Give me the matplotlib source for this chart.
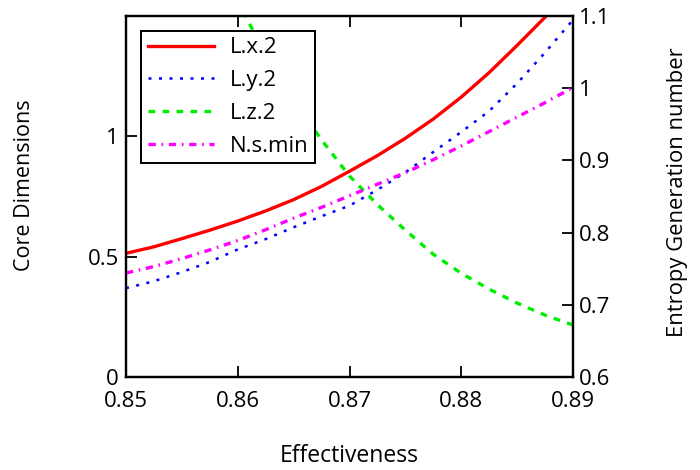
import matplotlib
matplotlib.use("Agg")
import matplotlib.pyplot as plt
from matplotlib.ticker import FixedLocator, FuncFormatter

# Effectiveness values (x axis)
effectiveness = [0.85, 0.8525, 0.855, 0.8575, 0.86, 0.8625, 0.865, 0.8675, 0.87,
                 0.8725, 0.875, 0.8775, 0.88, 0.8825, 0.885, 0.8875, 0.89]

# Core dimensions (left axis)
L_x2 = [0.514, 0.541, 0.575, 0.610, 0.648, 0.690, 0.737, 0.792, 0.855,
        0.920, 0.992, 1.072, 1.163, 1.265, 1.378, 1.495, 1.625]
L_y2 = [0.369, 0.398, 0.436, 0.478, 0.530, 0.573, 0.622, 0.668, 0.712,
        0.778, 0.850, 0.935, 1.018, 1.105, 1.220, 1.348, 1.484]
L_z2 = [2.85, 2.45, 2.12, 1.82, 1.56, 1.34, 1.15, 0.985, 0.835,
        0.716, 0.610, 0.510, 0.431, 0.365, 0.307, 0.257, 0.216]

# Minimum entropy generation number (right axis)
N_s_min = [0.744, 0.753, 0.764, 0.776, 0.789, 0.804, 0.820, 0.835, 0.851,
           0.867, 0.883, 0.901, 0.920, 0.940, 0.960, 0.980, 1.001]

x_ticks = [0.85, 0.86, 0.87, 0.88, 0.89]
left_ticks = [0, 0.5, 1]
right_ticks = [0.6, 0.7, 0.8, 0.9, 1.0, 1.1]

plt.rcParams['font.family'] = ['Open Sans', 'DejaVu Sans']
FS = 16

fig = plt.figure(figsize=(7, 4.7), dpi=100)
ax = fig.add_axes([126 / 700, 1 - 377 / 470, 447 / 700, 361 / 470])
ax2 = ax.twinx()

fmt = FuncFormatter(lambda v, p: f"{v:g}")

h1, = ax.plot(effectiveness, L_x2, color='#ff0000', lw=2.4, ls='-', label='L.x.2')
h2, = ax.plot(effectiveness, L_y2, color='#0000ff', lw=1.8, ls=(0, (1.2, 3.0)), label='L.y.2')
h3, = ax.plot(effectiveness, L_z2, color='#00ee00', lw=2.4, ls=(0, (2.0, 2.2)), label='L.z.2')
h4, = ax2.plot(effectiveness, N_s_min, color='#ff00ff', lw=2.4,
               ls=(0, (2.2, 1.7, 0.5, 1.7)), label='N.s.min')

ax.set_xlim(0.85, 0.89)
ax.set_ylim(0, 1.5)
ax2.set_ylim(0.6, 1.1)

ax.xaxis.set_major_locator(FixedLocator(x_ticks))
ax.xaxis.set_major_formatter(fmt)
ax.yaxis.set_major_locator(FixedLocator(left_ticks))
ax.yaxis.set_major_formatter(fmt)
ax2.yaxis.set_major_locator(FixedLocator(right_ticks))
ax2.yaxis.set_major_formatter(fmt)

ax.tick_params(axis='x', direction='in', length=8, width=1.3, labelsize=FS,
               pad=10, top=True, colors='black')
ax.tick_params(axis='y', direction='in', length=8, width=1.3, labelsize=FS,
               pad=5, right=False)
ax2.tick_params(axis='y', direction='in', length=8, width=1.3, labelsize=FS, pad=4)

for a in (ax, ax2):
    for s in a.spines.values():
        s.set_linewidth(1.6)
        s.set_color('black')

ax.set_xlabel('Effectiveness', fontsize=16.5, va='center')
ax.xaxis.set_label_coords(0.5, (377 - 456) / 361)
ax.set_ylabel('Core Dimensions', fontsize=15.5, va='center')
ax.yaxis.set_label_coords((25 - 126) / 447, (377 - 185) / 361)
ax2.set_ylabel('Entropy Generation number', fontsize=15.8, va='center', rotation=90)
ax2.yaxis.set_label_coords((678 - 126) / 447, (377 - 192) / 361)

leg = ax2.legend(handles=[h1, h2, h3, h4], loc='upper left',
                 bbox_to_anchor=((141 - 126) / 447, (377 - 30.7) / 361),
                 borderaxespad=0, fontsize=FS, frameon=True, fancybox=False,
                 framealpha=1, edgecolor='black', handlelength=3.0,
                 handletextpad=0.7, labelspacing=0.53, borderpad=0.3)
leg.get_frame().set_linewidth(1.4)

fig.savefig('out.png', dpi=100)
